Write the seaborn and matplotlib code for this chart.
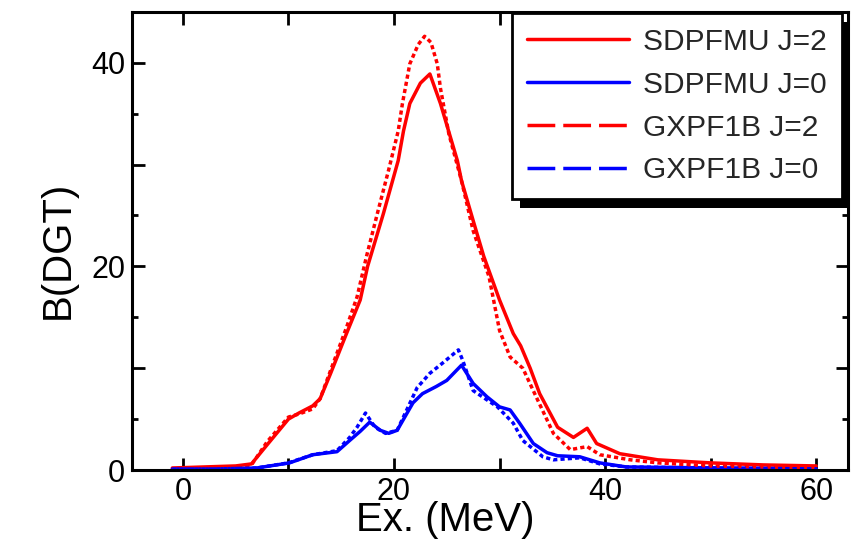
import numpy as np
import pandas as pd
import matplotlib
matplotlib.use("Agg")
import matplotlib.pyplot as plt
import seaborn as sns
from matplotlib.lines import Line2D
from matplotlib.patches import Rectangle
from matplotlib.transforms import IdentityTransform

# ---------------- data ----------------
ex_sd_j2 = [-1, 2, 5, 6.5, 8, 10, 11, 12.3, 13, 14, 15.5, 16.8, 17.5, 19, 20.4, 20.9, 21.5,
            22.5, 23.4, 24.4, 26, 26.4, 27.5, 28.5, 30, 31.3, 32, 32.9, 33.8, 35.5, 37, 38.3,
            39.2, 41.4, 45, 50, 55, 60]
b_sd_j2 = [0.2, 0.3, 0.4, 0.6, 2.5, 5.0, 5.6, 6.3, 7.0, 9.5, 13.4, 16.7, 20.0, 25.2, 30.4, 33.3,
           36.0, 38.0, 38.9, 36.0, 30.4, 28.4, 24.5, 21.0, 16.7, 13.4, 12.2, 10.0, 7.5, 4.2, 3.2,
           4.1, 2.6, 1.6, 1.0, 0.7, 0.5, 0.4]

ex_gx_j2 = [-1, 2, 5, 6.5, 8, 10, 11, 12.3, 13, 14, 15.5, 16.5, 17.4, 18.5, 19.5, 20.4, 20.8,
            21.5, 22.3, 22.9, 23.5, 24.1, 24.4, 25.2, 26.4, 27.5, 29, 30, 31, 32.2, 33.6, 35.1,
            36.7, 38.3, 39.5, 42.4, 45, 50, 55, 60]
b_gx_j2 = [0.1, 0.2, 0.3, 0.5, 2.8, 5.2, 5.5, 6.0, 7.0, 9.8, 14.0, 17.0, 21.0, 25.5, 29.5, 33.3,
           36.0, 39.9, 41.8, 42.6, 42.0, 39.9, 37.5, 33.0, 28.4, 23.5, 19.0, 13.7, 11.1, 10.0,
           6.9, 3.6, 2.0, 2.3, 1.5, 1.0, 0.7, 0.4, 0.3, 0.2]

ex_sd_j0 = [-1, 3, 7, 10.1, 12.3, 14.6, 15.8, 16.8, 17.7, 18.7, 19.5, 20.3, 21.8, 22.7, 24, 25,
            26.4, 27.5, 28.8, 30, 31, 31.9, 33.2, 34.5, 35.5, 37.6, 39.5, 42, 50, 60]
b_sd_j0 = [0.1, 0.1, 0.2, 0.7, 1.5, 1.8, 2.9, 3.8, 4.7, 3.9, 3.6, 3.9, 6.6, 7.5, 8.2, 8.8, 10.3,
           8.5, 7.2, 6.2, 5.9, 4.6, 2.6, 1.7, 1.4, 1.3, 0.7, 0.3, 0.2, 0.1]

ex_gx_j0 = [-1, 3, 7, 10, 12.3, 14.6, 15.8, 16.5, 17.3, 18.2, 19.2, 20.3, 22.2, 23.4, 24.6, 26.1,
            26.5, 27.5, 29.8, 31.3, 32.2, 34.1, 35.1, 37.6, 39.5, 42, 50, 60]
b_gx_j0 = [0.1, 0.1, 0.2, 0.7, 1.5, 1.9, 3.2, 4.2, 5.6, 4.2, 3.6, 3.9, 8.1, 9.5, 10.5, 11.8,
           10.8, 7.8, 6.2, 4.6, 2.9, 1.3, 1.0, 1.2, 0.6, 0.3, 0.2, 0.1]

series_labels = ["SDPFMU J=2", "SDPFMU J=0", "GXPF1B J=2", "GXPF1B J=0"]
x_ticks = [0, 10, 20, 30, 40, 50, 60]
x_tick_labels = ["0", "", "20", "", "40", "", "60"]
y_ticks = [0, 10, 20, 30, 40]
y_tick_labels = ["0", "", "20", "", "40"]
y_minor_ticks = [5, 15, 25, 35]

# ---------------- style ----------------
sns.set_style("white")
plt.rcParams['font.family'] = ['Liberation Sans', 'DejaVu Sans']

fig = plt.figure(figsize=(8.53, 5.39), dpi=100)
ax = fig.add_axes([0.155, 0.128, 0.839, 0.850])

RED = "#ff0000"
BLUE = "#0000ff"
LW = 2.5
DOT = (0, (1.2, 0.9))

plot_specs = [
    (ex_sd_j2, b_sd_j2, RED, "-"),
    (ex_sd_j0, b_sd_j0, BLUE, "-"),
    (ex_gx_j2, b_gx_j2, RED, DOT),
    (ex_gx_j0, b_gx_j0, BLUE, DOT),
]
for xs, ys, col, ls in plot_specs:
    df = pd.DataFrame({"Ex": xs, "B": ys})
    sns.lineplot(data=df, x="Ex", y="B", ax=ax, color=col, linewidth=LW,
                 linestyle=ls, estimator=None, sort=False, legend=False)

ax.set_xlim(-4.8, 63)
ax.set_ylim(0, 45)
ax.set_xticks(x_ticks)
ax.set_xticklabels(x_tick_labels)
ax.set_yticks(y_ticks)
ax.set_yticklabels(y_tick_labels)
ax.set_yticks(y_minor_ticks, minor=True)

for s in ax.spines.values():
    s.set_visible(True)
    s.set_color("black")
    s.set_linewidth(2.2)

ax.tick_params(which="both", direction="in", top=True, right=True, bottom=True, left=True,
               width=2.0, color="black", labelsize=22, labelcolor="black", pad=5)
ax.tick_params(which="major", length=9)
ax.tick_params(which="minor", length=4.5)

ax.set_xlabel("Ex. (MeV)", fontsize=29, color="black")
ax.set_ylabel("B(DGT)", fontsize=29, color="black")
ax.xaxis.set_label_coords(0.437, -0.068)
ax.yaxis.set_label_coords(-0.078, 0.48)

handles = [
    Line2D([], [], color=RED, lw=LW, ls="-"),
    Line2D([], [], color=BLUE, lw=LW, ls="-"),
    Line2D([], [], color=RED, lw=LW, ls=(0, (8, 2.3))),
    Line2D([], [], color=BLUE, lw=LW, ls=(0, (8, 2.3))),
]
leg = ax.legend(handles, series_labels, loc="upper right", bbox_to_anchor=(0.992, 0.998),
                bbox_transform=ax.transAxes, borderaxespad=0, fontsize=21.5, frameon=True,
                fancybox=False, edgecolor="black", framealpha=1, handlelength=3.4,
                handletextpad=0.5, labelspacing=0.5, borderpad=0.5)
leg.get_frame().set_linewidth(2)
leg.set_zorder(10)

fig.canvas.draw()
bb = leg.get_frame().get_window_extent()
shadow = Rectangle((bb.x0 + 8, bb.y0 - 9), bb.width, bb.height, transform=IdentityTransform(),
                   facecolor="black", edgecolor="none", zorder=9.9, clip_on=False)
ax.add_artist(shadow)

fig.savefig("out.png", dpi=100)
